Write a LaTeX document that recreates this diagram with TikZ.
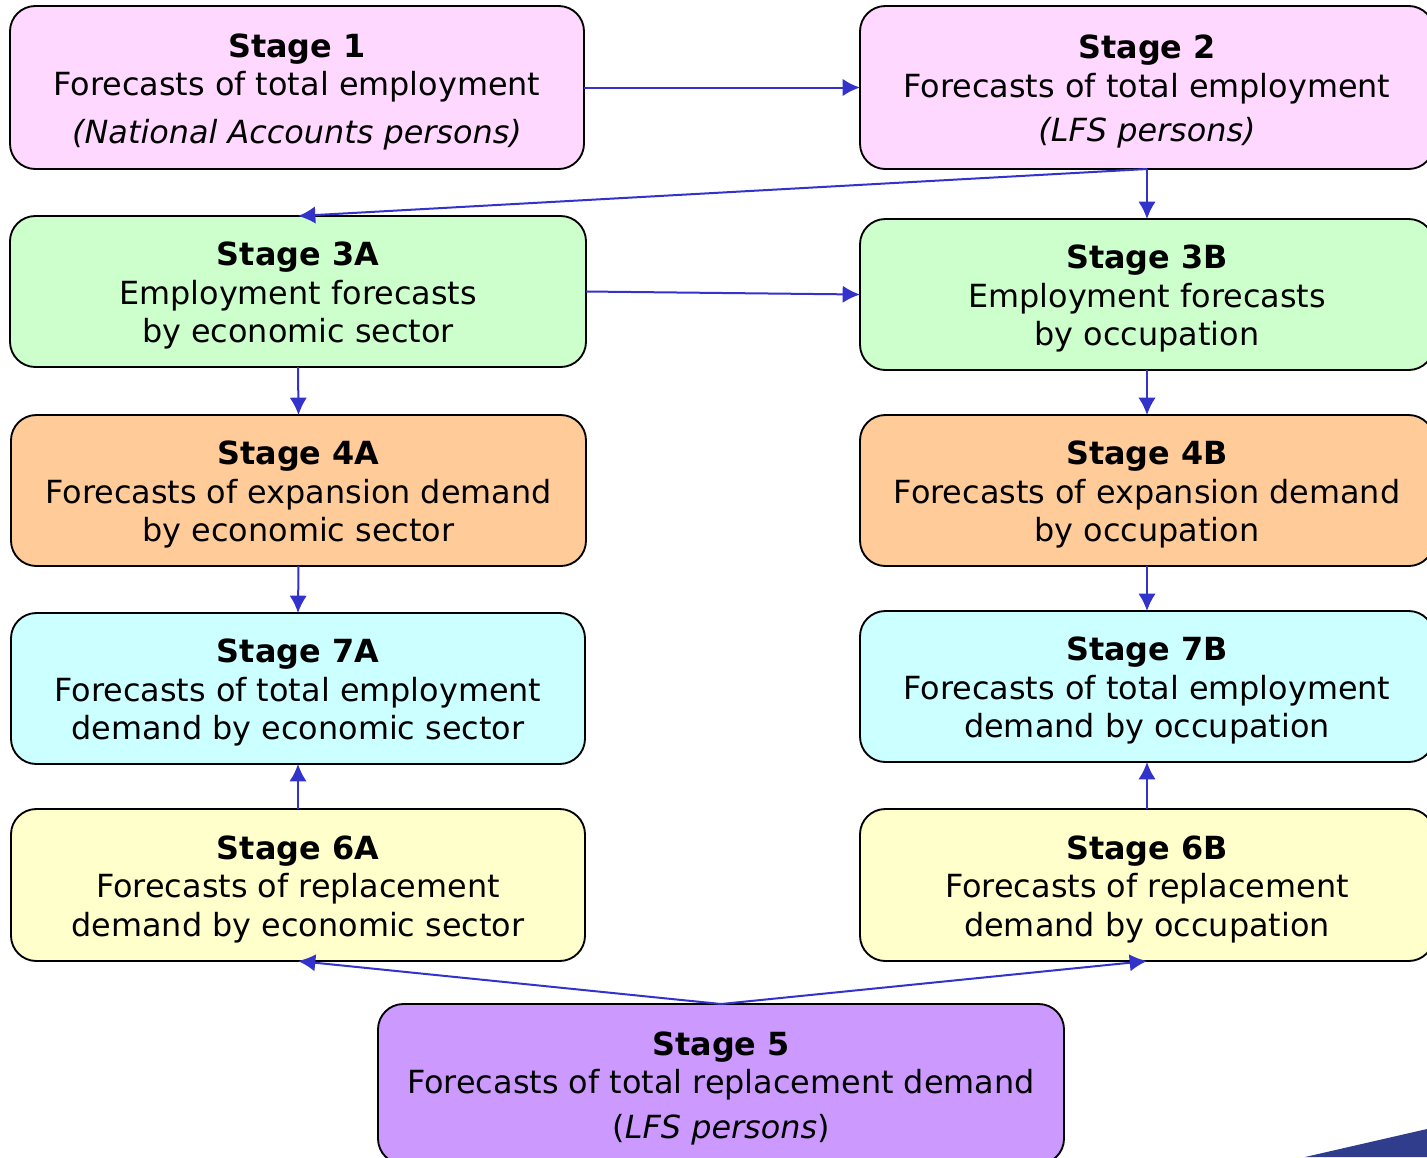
\documentclass[tikz,border=0pt]{standalone}
\usepackage{fontspec}
\setmainfont{DejaVu Sans}
\usetikzlibrary{arrows.meta}
\definecolor{cpink}{RGB}{255,216,255}
\definecolor{cgreen}{RGB}{204,255,204}
\definecolor{corange}{RGB}{255,204,153}
\definecolor{ccyan}{RGB}{204,255,255}
\definecolor{cyellow}{RGB}{255,255,204}
\definecolor{cpurple}{RGB}{204,153,255}
\definecolor{clink}{RGB}{51,51,204}
\definecolor{cwedge}{RGB}{47,61,140}
\tikzset{x=0.75pt,y=-0.75pt,
 stagebox/.style={draw=black,line width=1.4pt,rounded corners=19pt,inner sep=0pt,outer sep=0pt,align=center,
   font=\fontsize{23.9}{28.9}\selectfont},
 link/.style={draw=clink,line width=1.5pt,-{Latex[length=13pt,width=13pt]}}}
\newcommand{\stagenode}[7]{%
 \node[stagebox,fill=#6,minimum width={(#4-#2)*0.75pt},minimum height={(#5-#3)*0.75pt}]
   (#1) at ({(#2+#4)/2},{(#3+#5)/2}) {\rule{0pt}{24pt}#7};}
\begin{document}
\begin{tikzpicture}
\useasboundingbox (0,0) rectangle (1427,1157);
\fill[cwedge] (1305,1157) -- (1427,1129) -- (1427,1157) -- cycle;
\stagenode{s1}{10}{6}{584}{169}{cpink}{\textbf{Stage 1}\\Forecasts of total employment\\[6.5pt]\textit{(National Accounts persons)}}
\stagenode{s2}{860}{6}{1434}{169}{cpink}{\textbf{Stage 2}\\Forecasts of total employment\\[4pt]\textit{(LFS persons)}}
\stagenode{s3a}{10}{216}{586}{367}{cgreen}{\textbf{Stage 3A}\\Employment forecasts\\by economic sector}
\stagenode{s3b}{860}{219}{1434}{370}{cgreen}{\textbf{Stage 3B}\\Employment forecasts\\by occupation}
\stagenode{s4a}{11}{415}{586}{566}{corange}{\textbf{Stage 4A}\\Forecasts of expansion demand\\by economic sector}
\stagenode{s4b}{860}{415}{1434}{566}{corange}{\textbf{Stage 4B}\\Forecasts of expansion demand\\by occupation}
\stagenode{s7a}{11}{613}{585}{764}{ccyan}{\textbf{Stage 7A}\\Forecasts of total employment\\demand by economic sector}
\stagenode{s7b}{860}{611}{1434}{762}{ccyan}{\textbf{Stage 7B}\\Forecasts of total employment\\demand by occupation}
\stagenode{s6a}{11}{809}{585}{961}{cyellow}{\textbf{Stage 6A}\\Forecasts of replacement\\demand by economic sector}
\stagenode{s6b}{860}{809}{1434}{961}{cyellow}{\textbf{Stage 6B}\\Forecasts of replacement\\demand by occupation}
\stagenode{s5}{378}{1004}{1064}{1164}{cpurple}{\textbf{Stage 5}\\Forecasts of total replacement demand\\[4.5pt](\textit{LFS persons})}
\draw[link] (s1.east) -- (s2.west);
\draw[link] (s2.south) -- (s3a.north);
\draw[link] (s2.south) -- (s3b.north);
\draw[link] (s3a.east) -- (s3b.west);
\draw[link] (s3a.south) -- (s4a.north);
\draw[link] (s3b.south) -- (s4b.north);
\draw[link] (s4a.south) -- (s7a.north);
\draw[link] (s4b.south) -- (s7b.north);
\draw[link] (s6a.north) -- (s7a.south);
\draw[link] (s6b.north) -- (s7b.south);
\draw[link] (s5.north) -- (s6a.south);
\draw[link] (s5.north) -- (s6b.south);
\end{tikzpicture}
\end{document}
